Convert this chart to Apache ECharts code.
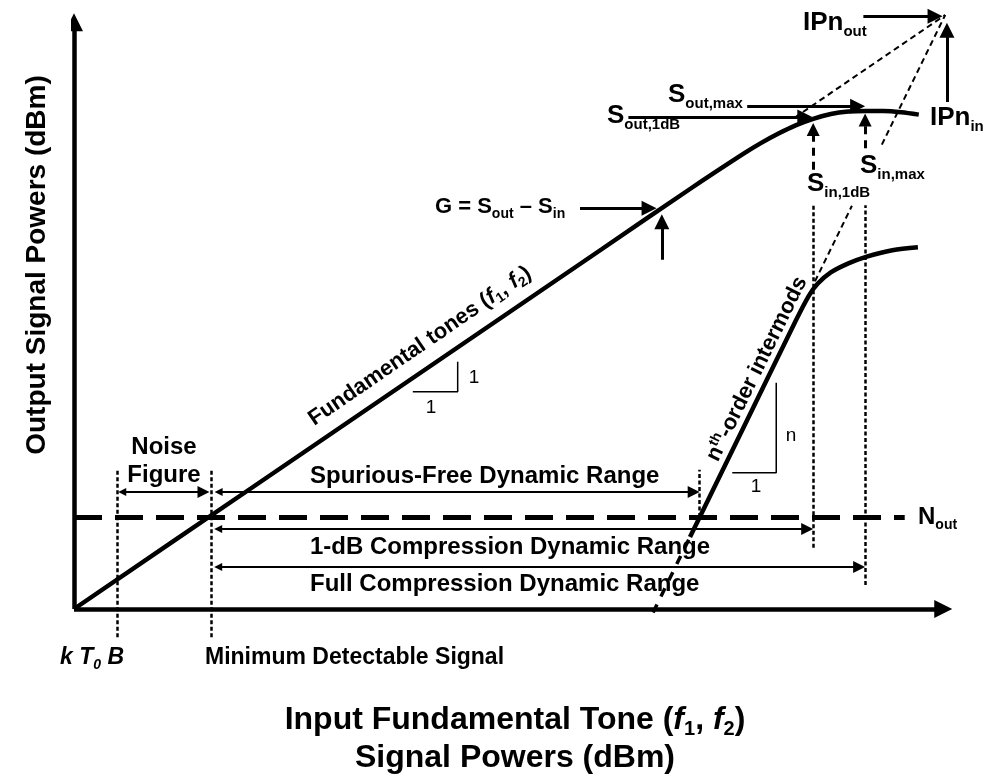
<!DOCTYPE html>
<html><head><meta charset="utf-8">
<script src="https://cdn.jsdelivr.net/npm/echarts@6/dist/echarts.min.js"></script>
<style>html,body{margin:0;padding:0;background:#fff}#c{width:989px;height:779px}</style>
</head><body><div id="c"></div>
<script>
// Fundamental tone: output power vs input power (dBm, relative scale)
const fundIn  = [0, 20, 40, 60, 70, 76, 78, 80, 82, 84, 86, 88, 90, 92, 94, 96];
const fundOut = [0, 20, 40, 60, 70, 75.8, 77.6, 79.2, 80.6, 81.7, 82.5, 82.9, 83.0, 83.0, 82.8, 82.4];
// nth-order intermodulation product (slope n = 3)
const imdIn  = [70, 76, 82, 83.5, 84.5, 86, 88, 90, 93, 95.9];
const imdOut = [12, 30, 48, 52.2, 54.2, 56.1, 57.6, 58.7, 59.8, 60.3];
// the same product below the noise floor
const imdLowIn  = [65.8, 70];
const imdLowOut = [-0.6, 12];
// key levels
const noiseFloor = 15.33;   // N_out
const kT0B = 4.9;           // thermal noise input
const mds = 15.6;           // minimum detectable signal
const sfdrEdge = 71.1;
const sIn1dB = 84.0, sOut1dB = 82.0;
const sInMax = 89.9, sOutMax = 83.8;
const ipIn = 99, ipOut = 99;

const XMIN = 0, XMAX = 100, YMIN = -25, YMAX = 100;
const G = {left: 74, top: 9, width: 880, height: 750};
const KX = G.width / (XMAX - XMIN), KY = G.height / (YMAX - YMIN);
const FONT = '"Liberation Sans", Arial, Helvetica, sans-serif';

// pull an arrow end back so the triangle tip lands on the given point
function pull(from, to, len) {
  const dx = (to[0] - from[0]) * KX, dy = (to[1] - from[1]) * KY;
  const d = Math.hypot(dx, dy) || 1;
  return [to[0] - dx / d * len / KX, to[1] - dy / d * len / KY];
}
function arrow(from, to, len) { return {coords: [from, pull(from, to, len / 2)]}; }
function arrow2(from, to, len) { return {coords: [pull(to, from, len / 2), pull(from, to, len / 2)]}; }
function seg(from, to) { return {coords: [from, to]}; }

const black = '#000';
function linesSeries(data, width, type, symbol, size) {
  return {
    type: 'lines', coordinateSystem: 'cartesian2d', silent: true,
    symbol: symbol, symbolSize: size,
    lineStyle: {color: black, width: width, type: type, opacity: 1, curveness: 0},
    itemStyle: {color: black},
    data: data
  };
}

const series = [
  {type: 'line', data: fundIn.map((x, i) => [x, fundOut[i]]), smooth: 0.3, symbol: 'none',
   lineStyle: {color: black, width: 4.5}, silent: true},
  {type: 'line', data: imdIn.map((x, i) => [x, imdOut[i]]), smooth: 0.3, symbol: 'none',
   lineStyle: {color: black, width: 4.5}, silent: true},
  {type: 'line', data: imdLowIn.map((x, i) => [x, imdLowOut[i]]), symbol: 'none',
   lineStyle: {color: black, width: 3.5, type: [9, 9]}, silent: true},
  // slope triangles
  {type: 'line', data: [[38.5, 36.2], [43.6, 36.2], [43.6, 41.2]], symbol: 'none',
   lineStyle: {color: black, width: 1.5}, silent: true},
  {type: 'line', data: [[74.8, 22.7], [79.8, 22.7], [79.8, 37.7]], symbol: 'none',
   lineStyle: {color: black, width: 1.5}, silent: true},
  // axes
  linesSeries([arrow([0, 0], [0, 99.3], 18), arrow([0, 0], [99.8, 0], 18)], 4.5, 'solid', ['none', 'triangle'], [13, 18]),
  // noise floor
  linesSeries([seg([0, noiseFloor], [94.4, noiseFloor])], 5, [28, 13], ['none', 'none'], 1),
  // extrapolations to the intercept point
  linesSeries([seg([81.9, 81.9], [ipIn, ipOut]), seg([84.2, 54.6], [88.4, 67.2]), seg([91.8, 77.4], [ipIn, ipOut])],
    2, [6, 4], ['none', 'none'], 1),
  // dotted markers
  linesSeries([
    seg([kT0B, -4.7], [kT0B, 23.2]), seg([mds, -4.7], [mds, 23.2]),
    seg([sfdrEdge, noiseFloor], [sfdrEdge, 23.2]),
    seg([sIn1dB, 10.2], [sIn1dB, 67.3]), seg([sInMax, 4.0], [sInMax, 67.3])
  ], 2.5, [4, 2.5], ['none', 'none'], 1),
  // solid pointer arrows
  linesSeries([
    arrow([89.7, 98.8], [98.7, 98.8], 15),
    arrow([99.2, 84.5], [99.2, 97.7], 15),
    arrow([63.0, sOut1dB], [sIn1dB - 0.1, sOut1dB], 15),
    arrow([76.5, sOutMax], [sInMax, sOutMax], 15),
    arrow([57.5, 66.8], [66.2, 66.8], 15),
    arrow([66.8, 58.2], [66.8, 65.8], 15)
  ], 3, 'solid', ['none', 'triangle'], [11, 15]),
  // dashed pointer arrows
  linesSeries([
    arrow([sIn1dB, 73.2], [sIn1dB, 81.0], 13),
    arrow([sInMax, 76.8], [sInMax, 82.6], 13)
  ], 3, [8, 6], ['none', 'triangle'], [10, 13]),
  // range arrows
  linesSeries([
    arrow2([kT0B - 0.1, 19.5], [mds - 0.2, 19.5], 12),
    arrow2([mds + 0.15, 19.5], [sfdrEdge, 19.5], 12),
    arrow2([mds + 0.1, 13.33], [sIn1dB, 13.33], 12),
    arrow2([mds + 0.1, 7.0], [sInMax, 7.0], 12)
  ], 2, 'solid', ['triangle', 'triangle'], [8, 12])
];

function st(size, extra) {
  return Object.assign({fontSize: size, fontWeight: 'bold', fontFamily: FONT, fill: black}, extra || {});
}
function txt(x, y, text, rich, o) {
  o = o || {};
  return {
    type: 'text', x: x, y: y, rotation: o.rot || 0, silent: true,
    style: {
      text: text, rich: rich, fill: black,
      font: o.font || ('bold 24px ' + FONT),
      align: o.align || 'left', textAlign: o.align || 'left',
      verticalAlign: 'middle', textVerticalAlign: 'middle'
    }
  };
}
const richS = {m: st(26), s: st(15, {padding: [18, 0, 0, 0]})};
const richG = {m: st(22), s: st(14, {padding: [14, 0, 0, 0]})};
const richN = {m: st(24), s: st(14, {padding: [16, 0, 0, 0]})};
const richK = {m: st(23, {fontStyle: 'italic'}), s: st(14, {fontStyle: 'italic', padding: [14, 0, 0, 0]})};
const richF = {m: st(22), i: st(22, {fontStyle: 'italic'}), s: st(14, {padding: [12, 0, 0, 0]})};
const richT = {m: st(32), i: st(32, {fontStyle: 'italic'}), s: st(20, {padding: [18, 0, 0, 0]})};
const richI = {m: st(22), p: st(14, {padding: [0, 0, 12, 0]})};

const graphic = [
  txt(803, 23, '{m|IPn}{s|out}', richS),
  txt(930, 118, '{m|IPn}{s|in}', richS),
  txt(607, 116, '{m|S}{s|out,1dB}', richS),
  txt(668, 95, '{m|S}{s|out,max}', richS),
  txt(807, 184, '{m|S}{s|in,1dB}', richS),
  txt(860, 166, '{m|S}{s|in,max}', richS),
  txt(435, 207, '{m|G = S}{s|out}{m| \u2013 S}{s|in}', richG),
  txt(918, 517, '{m|N}{s|out}', richN),
  txt(164, 447, 'Noise', null, {align: 'center'}),
  txt(164, 475, 'Figure', null, {align: 'center'}),
  txt(310, 476, 'Spurious-Free Dynamic Range'),
  txt(310, 547, '1-dB Compression Dynamic Range'),
  txt(310, 584, 'Full Compression Dynamic Range'),
  txt(60, 658, '{m|k T}{s|0}{m| B}', richK),
  txt(205, 658, 'Minimum Detectable Signal', null, {font: 'bold 23px ' + FONT}),
  txt(37, 265, 'Output Signal Powers (dBm)', null, {font: 'bold 28px ' + FONT, align: 'center', rot: Math.PI / 2}),
  txt(515, 720, '{m|Input Fundamental Tone (}{i|f}{s|1}{m|, }{i|f}{s|2}{m|)}', richT, {align: 'center'}),
  txt(515, 758, 'Signal Powers (dBm)', null, {font: 'bold 32px ' + FONT, align: 'center'}),
  txt(420, 346, '{m|Fundamental tones (}{i|f}{s|1}{m|, }{i|f}{s|2}{m|)}', richF, {align: 'center', rot: Math.atan2(0.686, 1)}),
  txt(757, 369, '{m|n}{p|th}{m|-order intermods}', richI, {align: 'center', rot: Math.atan2(2.03, 1)}),
  txt(474, 378, '1', null, {font: '19px ' + FONT, align: 'center'}),
  txt(431, 408, '1', null, {font: '19px ' + FONT, align: 'center'}),
  txt(791, 436, 'n', null, {font: '19px ' + FONT, align: 'center'}),
  txt(756, 487, '1', null, {font: '19px ' + FONT, align: 'center'})
];

const chart = echarts.init(document.getElementById('c'), null, {renderer: 'canvas'});
chart.setOption({
  animation: false,
  backgroundColor: '#fff',
  grid: G,
  xAxis: {type: 'value', min: XMIN, max: XMAX, show: false},
  yAxis: {type: 'value', min: YMIN, max: YMAX, show: false},
  series: series,
  graphic: graphic
});
</script></body></html>
